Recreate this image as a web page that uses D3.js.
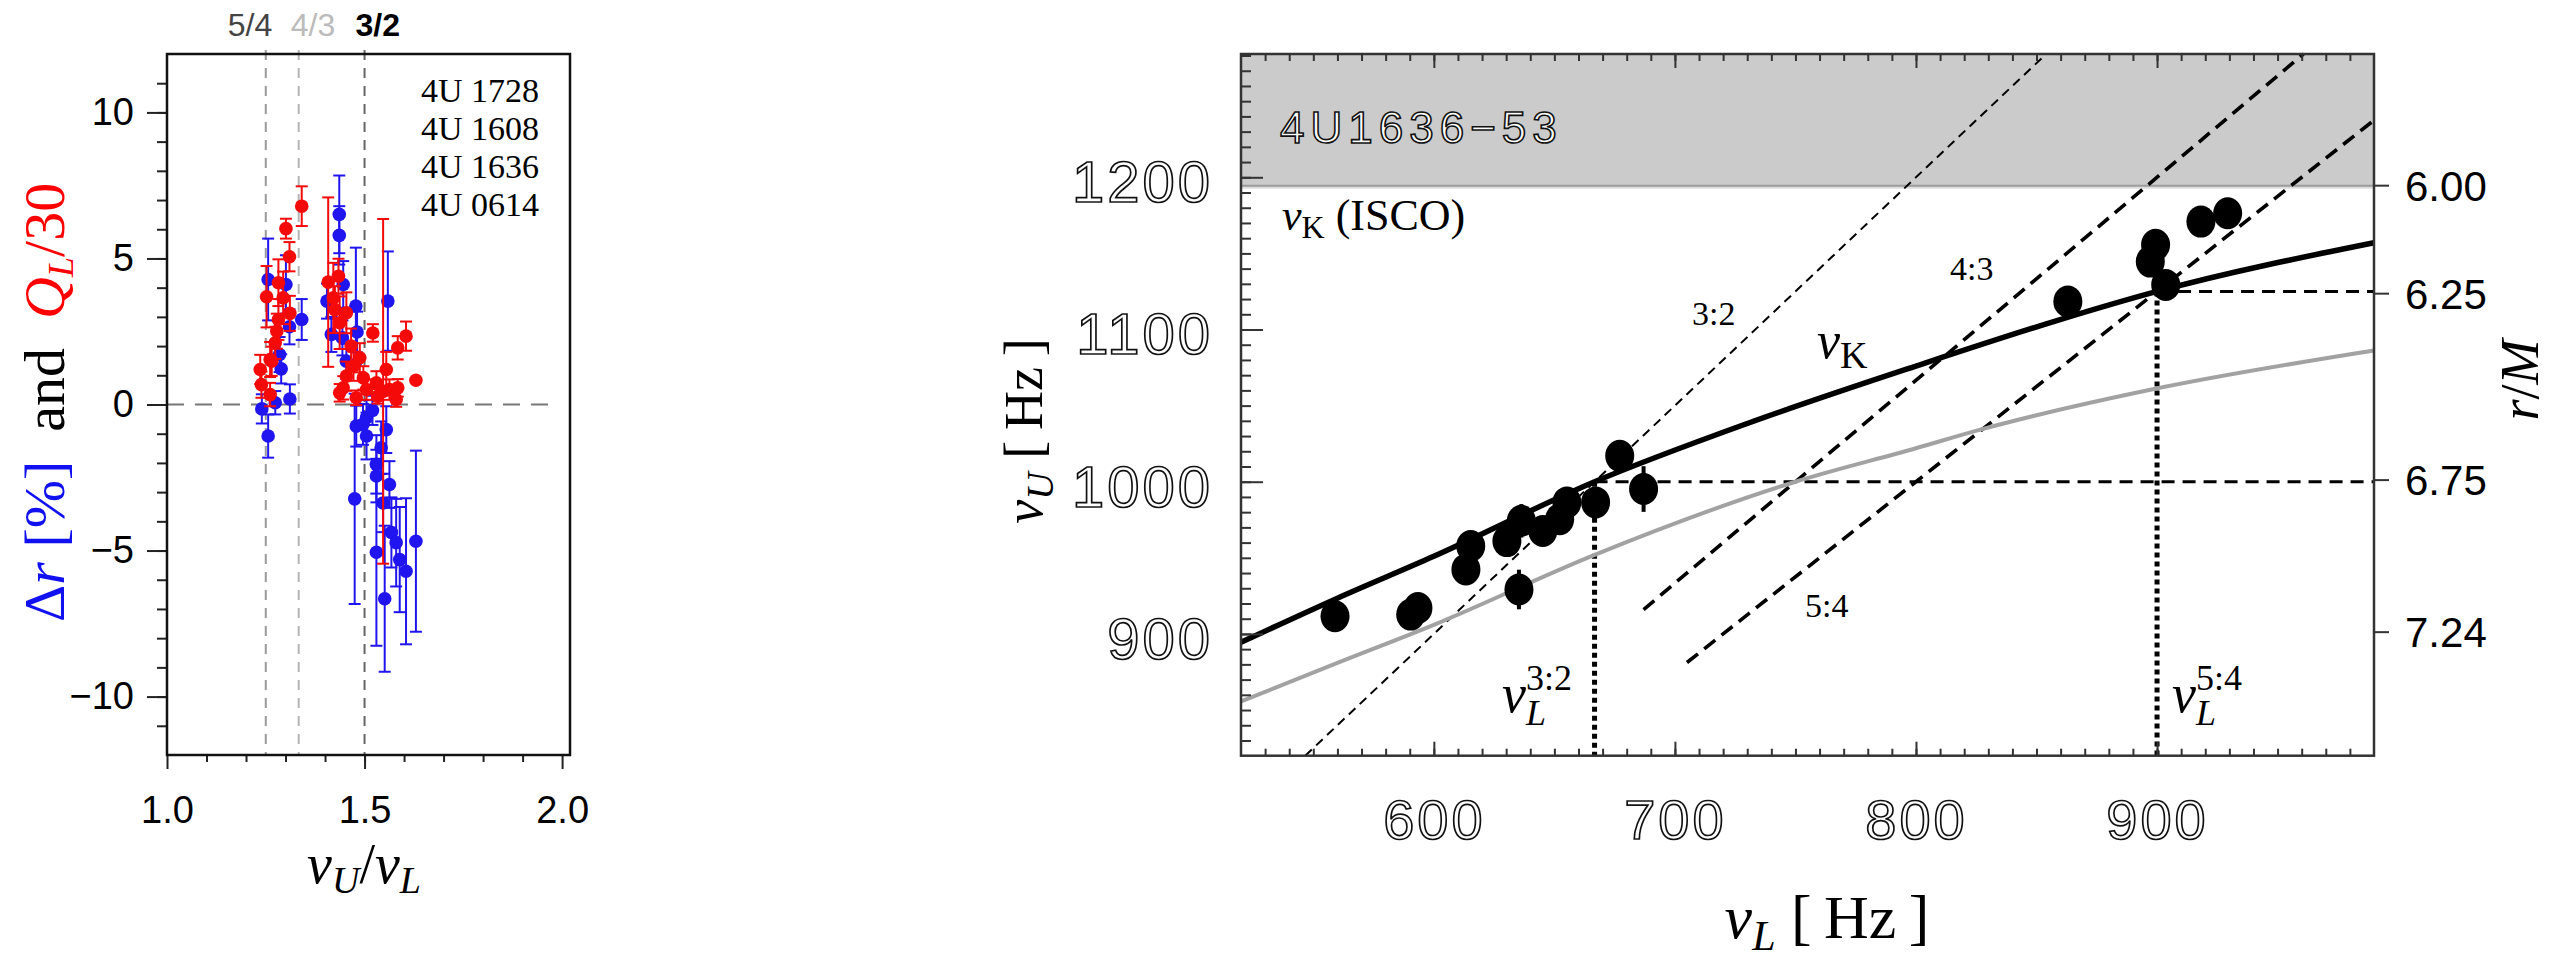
<!DOCTYPE html>
<html>
<head>
<meta charset="utf-8">
<script src="https://cdn.jsdelivr.net/npm/d3@7"></script>
<style>
body { margin: 0; background: #fff; }
text { font-family: "Liberation Sans", Arial, sans-serif; }
.serif { font-family: "Liberation Serif", "Times New Roman", serif; }
.hollow text { fill: #fff; stroke: #111; stroke-width: 1.7px; letter-spacing: 3px; }
</style>
</head>
<body>
<svg id="chart" width="2553" height="964"></svg>
<script>
// ---------- left panel: [nuU/nuL, value, error] ----------
var blueDr = [
  [1.436, 6.51, 1.33], [1.436, 5.79, 1.00], [1.256, 4.28, 1.40], [1.301, 4.11, 1.00], [1.446, 4.11, 0.80],
  [1.405, 3.54, 0.60], [1.478, 3.37, 2.00], [1.559, 3.54, 1.70], [1.341, 2.91, 0.70], [1.310, 2.66, 0.60],
  [1.416, 2.40, 0.60], [1.444, 2.28, 0.60], [1.481, 2.48, 0.70], [1.289, 1.22, 0.50], [1.285, 1.71, 0.60],
  [1.454, 1.48, 0.60], [1.311, 0.19, 0.50], [1.274, 0.06, 0.40], [1.240, -0.15, 0.50], [1.256, -1.08, 0.74],
  [1.496, -0.68, 0.70], [1.505, -1.08, 0.80], [1.542, -1.48, 0.90], [1.530, -2.05, 1.00], [1.530, -2.45, 0.90],
  [1.563, -2.74, 0.80], [1.475, -3.23, 3.60], [1.547, -3.37, 1.00], [1.568, -4.38, 1.20], [1.580, -4.73, 1.50],
  [1.630, -4.68, 3.10], [1.530, -5.06, 3.20], [1.605, -5.71, 2.50], [1.589, -5.31, 1.80], [1.551, -6.65, 2.50],
  [1.505, -0.45, 0.60], [1.479, -0.74, 0.70], [1.555, -0.86, 0.80], [1.520, -0.20, 0.50]
];
var redQ = [
  [1.341, 6.79, 0.68], [1.301, 6.02, 0.34], [1.310, 5.06, 0.50], [1.282, 4.17, 0.80], [1.252, 3.69, 1.05],
  [1.294, 3.65, 0.90], [1.311, 3.12, 0.60], [1.282, 2.91, 0.70], [1.278, 2.51, 0.60], [1.274, 2.11, 0.55],
  [1.261, 1.54, 0.60], [1.236, 1.20, 0.50], [1.239, 0.68, 0.45], [1.261, 0.34, 0.40], [1.265, 1.48, 0.50],
  [1.408, 4.19, 2.90], [1.421, 3.65, 1.20], [1.434, 4.39, 0.60], [1.425, 3.25, 0.80], [1.437, 2.80, 0.90],
  [1.454, 3.14, 0.70], [1.521, 2.45, 0.30], [1.605, 2.34, 0.50], [1.584, 1.94, 0.40], [1.630, 0.83, 0],
  [1.472, 1.31, 0.50], [1.497, 0.91, 0.40], [1.454, 0.97, 0.50], [1.446, 0.57, 0.40], [1.505, 0.51, 0.35],
  [1.547, 0.45, 5.90], [1.555, 1.20, 0.60], [1.530, 0.74, 0.40], [1.563, 0.51, 0.35], [1.584, 0.57, 0.30],
  [1.437, 0.40, 0.30], [1.479, 0.23, 0.25], [1.580, 0.17, 0.25], [1.533, 0.28, 0.25], [1.466, 2.00, 0.60],
  [1.488, 1.60, 0.50]
];
var sources = ['4U 1728', '4U 1608', '4U 1636', '4U 0614'];
var ratioValues = [5 / 4, 4 / 3, 3 / 2];
var ratioLabels = ['5/4', '4/3', '3/2'];

// ---------- right panel: 4U 1636-53 ----------
var nuL = [559, 590.4, 593.4, 613.3, 615.3, 630.3, 635.3, 636.3, 645.2, 652.2, 655.2, 667.1, 677.1, 687,
  863, 897.2, 899.4, 903.6, 918.2, 929.3];
var nuU = [911.6, 912.7, 917, 942.4, 957.8, 961, 929.2, 974.3, 967.7, 975.4, 986.4, 986.4, 1017, 995.2,
  1118.4, 1144.6, 1155.6, 1129.3, 1170.9, 1176.4];
var nuUerr = [0, 0, 0, 0, 0, 0, 13, 11, 0, 0, 0, 0, 5, 15, 0, 0, 0, 0, 0, 0];
var kepL = [520, 560, 600, 666.7, 730.6, 800, 858.8, 900, 990];        // nu_K curve
var kepU = [894.5, 923.5, 951, 1000, 1038.6, 1076, 1106, 1125, 1157];
var grayL = [520, 560, 600, 666.7, 750, 800, 826.7, 897.2, 990];
var grayU = [855.6, 881, 906, 952, 1000, 1022, 1034.2, 1060.4, 1086.2];
var resonances = [[3, 2], [4, 3], [5, 4]];
var resonanceStart = [520, 687, 705];      // nu_L where each dashed line begins
var nuISCO = 1194.5;
var rTicks = [6.00, 6.25, 6.75, 7.24];

var svg = d3.select('#chart');
svg.append('rect').attr('width', 2553).attr('height', 964).attr('fill', '#fff');

// rich text with italic / sub / sup pieces
function rich(g, x, y, size, parts, anchor) {
    var t = g.append('text').attr('class', 'serif').attr('x', x).attr('y', y)
        .attr('font-size', size).attr('text-anchor', anchor || 'start');
    var cur = 0;
    parts.forEach(function (p) {
        var sh = p.sh || 0;
        t.append('tspan').text(p.t)
            .attr('dy', sh - cur)
            .attr('dx', p.dx || 0)
            .attr('font-size', p.s || size)
            .attr('font-style', p.i ? 'italic' : 'normal')
            .attr('fill', p.f || '#000');
        cur = sh;
    });
    return t;
}

/* ================= LEFT PANEL ================= */
var xL = d3.scaleLinear().domain([1, 2.02]).range([167, 570]);
var yL = d3.scaleLinear().domain([-12, 12]).range([755, 54]);
var left = svg.append('g');

left.append('line')
    .attr('x1', 167).attr('x2', 557).attr('y1', yL(0)).attr('y2', yL(0))
    .attr('stroke', '#777').attr('stroke-width', 2).attr('stroke-dasharray', '17,11');

var ratioColor = ['#9a9a9a', '#b4b4b4', '#666'];
left.selectAll('line.ratio').data(ratioValues).enter().append('line')
    .attr('class', 'ratio')
    .attr('x1', function (d) { return xL(d); }).attr('x2', function (d) { return xL(d); })
    .attr('y1', 50).attr('y2', 755)
    .attr('stroke', function (d, i) { return ratioColor[i]; })
    .attr('stroke-width', 2).attr('stroke-dasharray', '10,8');

var ratioDx = [-38, -8, -9], ratioFill = ['#444', '#bbb', '#000'];
left.selectAll('text.ratio').data(ratioLabels).enter().append('text')
    .attr('class', 'ratio')
    .attr('x', function (d, i) { return xL(ratioValues[i]) + ratioDx[i]; })
    .attr('y', 36).attr('font-size', 32)
    .attr('font-weight', function (d, i) { return i === 2 ? 'bold' : 'normal'; })
    .attr('fill', function (d, i) { return ratioFill[i]; })
    .text(function (d) { return d; });

function drawSeries(data, color) {
    var g = left.append('g');
    var eb = g.selectAll('g.eb').data(data.filter(function (d) { return d[2] > 0; })).enter().append('g')
        .attr('stroke', color).attr('stroke-width', 2);
    eb.append('line')
        .attr('x1', function (d) { return xL(d[0]); }).attr('x2', function (d) { return xL(d[0]); })
        .attr('y1', function (d) { return yL(d[1] - d[2]); }).attr('y2', function (d) { return yL(d[1] + d[2]); });
    [-1, 1].forEach(function (s) {
        eb.append('line')
            .attr('x1', function (d) { return xL(d[0]) - 6; }).attr('x2', function (d) { return xL(d[0]) + 6; })
            .attr('y1', function (d) { return yL(d[1] + s * d[2]); }).attr('y2', function (d) { return yL(d[1] + s * d[2]); });
    });
    g.selectAll('circle').data(data).enter().append('circle')
        .attr('cx', function (d) { return xL(d[0]); })
        .attr('cy', function (d) { return yL(d[1]); })
        .attr('r', 6.8).attr('fill', color);
}
drawSeries(blueDr, '#2015ee');
drawSeries(redQ, '#f50a0a');

// axes
var axL1 = left.append('g').attr('transform', 'translate(0,755)')
    .call(d3.axisBottom(xL).tickValues(d3.range(1.1, 1.95, 0.1)).tickSize(7).tickSizeOuter(0).tickFormat(''));
var axL2 = left.append('g').attr('transform', 'translate(0,755)')
    .call(d3.axisBottom(xL).tickValues([1, 1.5, 2]).tickSize(14).tickSizeOuter(0).tickPadding(27)
        .tickFormat(d3.format('.1f')));
var axL3 = left.append('g').attr('transform', 'translate(167,0)')
    .call(d3.axisLeft(yL).tickValues(d3.range(-11, 12, 1)).tickSize(10).tickSizeOuter(0).tickFormat(''));
var axL4 = left.append('g').attr('transform', 'translate(167,0)')
    .call(d3.axisLeft(yL).tickValues([-10, -5, 0, 5, 10]).tickSize(20).tickSizeOuter(0).tickPadding(13));
[axL1, axL2, axL3, axL4].forEach(function (a) {
    a.select('.domain').remove();
    a.selectAll('line').attr('stroke', '#222').attr('stroke-width', 2);
    a.selectAll('text').attr('font-size', 38).attr('fill', '#000')
        .attr('font-family', '"Liberation Sans", Arial, sans-serif');
});

left.append('rect').attr('x', 167).attr('y', 54).attr('width', 403).attr('height', 701)
    .attr('fill', 'none').attr('stroke', '#111').attr('stroke-width', 2.5);

left.selectAll('text.src').data(sources).enter().append('text')
    .attr('class', 'serif src')
    .attr('x', 421).attr('y', function (d, i) { return 101.7 + i * 38; })
    .attr('font-size', 34).text(function (d) { return d; });

rich(left, 364, 883, 56, [
    { t: 'ν', i: true }, { t: 'U', i: true, s: 38, sh: 10 },
    { t: '/', i: false, sh: 0 }, { t: 'ν', i: true }, { t: 'L', i: true, s: 38, sh: 10 }
], 'middle');

var yt = left.append('g').attr('transform', 'rotate(-90,64,622)');
rich(yt, 64, 622, 58, [
    { t: 'Δ', f: '#1010f0' }, { t: 'r', i: true, f: '#1010f0' }, { t: ' [%]', f: '#1010f0' },
    { t: '  and  ', f: '#000' },
    { t: 'Q', i: true, f: '#f00' }, { t: 'L', i: true, s: 36, sh: 9, f: '#f00' },
    { t: '/30', f: '#f00', sh: 0 }
]).attr('xml:space', 'preserve');

/* ================= RIGHT PANEL ================= */
var xR = d3.scaleLinear().domain([520, 990]).range([1241, 2374]);
var yR = d3.scaleLinear().domain([820, 1281]).range([755.7, 54]);
var right = svg.append('g');

right.append('rect').attr('x', 1241).attr('y', 54).attr('width', 1133).attr('height', yR(nuISCO) - 54)
    .attr('fill', '#cbcbcb');
right.append('rect').attr('x', 1241).attr('y', yR(nuISCO)).attr('width', 1133).attr('height', 3)
    .attr('fill', '#dcdcdc');
right.append('line').attr('x1', 1241).attr('x2', 2374).attr('y1', yR(nuISCO)).attr('y2', yR(nuISCO))
    .attr('stroke', '#9c9c9c').attr('stroke-width', 2);

// resonance lines nu_U = (n/m) nu_L
resonances.forEach(function (r, i) {
    var k = r[0] / r[1];
    var lo = Math.max(resonanceStart[i], yR.domain()[0] / k);
    var hi = Math.min(xR.domain()[1], yR.domain()[1] / k);
    right.append('line')
        .attr('x1', xR(lo)).attr('y1', yR(lo * k)).attr('x2', xR(hi)).attr('y2', yR(hi * k))
        .attr('stroke', '#000')
        .attr('stroke-width', i === 0 ? 2 : 3.6)
        .attr('stroke-dasharray', i === 0 ? '9,6' : '14,8');
});

// where nu_K meets 3:2 and 5:4
var cross = [[1000 / 1.5, 1000], [1125 / 1.25, 1125]];
cross.forEach(function (c) {
    right.append('line').attr('x1', xR(c[0])).attr('x2', 2374).attr('y1', yR(c[1])).attr('y2', yR(c[1]))
        .attr('stroke', '#000').attr('stroke-width', 3).attr('stroke-dasharray', '13,8');
    right.append('line').attr('x1', xR(c[0])).attr('x2', xR(c[0])).attr('y1', yR(c[1])).attr('y2', 755.7)
        .attr('stroke', '#000').attr('stroke-width', 5).attr('stroke-dasharray', '5,4');
});

var line = d3.line().curve(d3.curveMonotoneX)
    .x(function (d) { return xR(d[0]); }).y(function (d) { return yR(d[1]); });
right.append('path').datum(d3.zip(grayL, grayU)).attr('d', line)
    .attr('fill', 'none').attr('stroke', '#a2a2a2').attr('stroke-width', 4);
right.append('path').datum(d3.zip(kepL, kepU)).attr('d', line)
    .attr('fill', 'none').attr('stroke', '#000').attr('stroke-width', 5.5);

var pts = d3.range(nuL.length).map(function (i) { return [nuL[i], nuU[i], nuUerr[i]]; });
right.selectAll('line.err').data(pts.filter(function (d) { return d[2] > 0; })).enter().append('line')
    .attr('class', 'err')
    .attr('x1', function (d) { return xR(d[0]); }).attr('x2', function (d) { return xR(d[0]); })
    .attr('y1', function (d) { return yR(d[1] - d[2]); }).attr('y2', function (d) { return yR(d[1] + d[2]); })
    .attr('stroke', '#000').attr('stroke-width', 4);
right.selectAll('ellipse').data(pts).enter().append('ellipse')
    .attr('cx', function (d) { return xR(d[0]); })
    .attr('cy', function (d) { return yR(d[1]); })
    .attr('rx', 14.5).attr('ry', 16).attr('fill', '#000');

// axes (ticks inside)
function styleAxis(a) {
    a.select('.domain').remove();
    a.selectAll('line').attr('stroke', '#333').attr('stroke-width', 2);
}
var minorX = d3.range(530, 990, 10), minorY = d3.range(830, 1281, 10);
styleAxis(right.append('g').attr('transform', 'translate(0,755.7)')
    .call(d3.axisBottom(xR).tickValues(minorX).tickSize(-7).tickFormat('')));
styleAxis(right.append('g').attr('transform', 'translate(0,54)')
    .call(d3.axisTop(xR).tickValues(minorX).tickSize(-7).tickFormat('')));
styleAxis(right.append('g').attr('transform', 'translate(1241,0)')
    .call(d3.axisLeft(yR).tickValues(minorY).tickSize(-10).tickFormat('')));
var axB = right.append('g').attr('class', 'hollow').attr('transform', 'translate(0,755.7)')
    .call(d3.axisBottom(xR).tickValues([600, 700, 800, 900]).tickSize(-14).tickPadding(44)
        .tickFormat(d3.format('d')));
var axT = right.append('g').attr('transform', 'translate(0,54)')
    .call(d3.axisTop(xR).tickValues([600, 700, 800, 900]).tickSize(-14).tickFormat(''));
var axLft = right.append('g').attr('class', 'hollow').attr('transform', 'translate(1241,0)')
    .call(d3.axisLeft(yR).tickValues([900, 1000, 1100, 1200]).tickSize(-22).tickPadding(28)
        .tickFormat(d3.format('d')));
[axB, axT, axLft].forEach(styleAxis);
axB.selectAll('text').attr('font-size', 56);
axLft.selectAll('text').attr('font-size', 58).attr('dy', '0.42em');

right.append('rect').attr('x', 1241).attr('y', 54).attr('width', 1133).attr('height', 701.7)
    .attr('fill', 'none').attr('stroke', '#333').attr('stroke-width', 2.5);

// r/M axis on the right
function rToNu(r) { return nuISCO * Math.pow(6 / r, 1.5); }
right.selectAll('line.rt').data(rTicks).enter().append('line').attr('class', 'rt')
    .attr('x1', 2374).attr('x2', 2389)
    .attr('y1', function (d) { return yR(rToNu(d)); }).attr('y2', function (d) { return yR(rToNu(d)); })
    .attr('stroke', '#333').attr('stroke-width', 2);
right.selectAll('text.rt').data(rTicks).enter().append('text').attr('class', 'rt')
    .attr('x', 2405).attr('y', function (d) { return yR(rToNu(d)) + 15; })
    .attr('font-size', 42).text(function (d) { return d.toFixed(2); });

// labels
right.append('text').attr('x', 1280).attr('y', 143).attr('font-size', 44)
    .attr('fill', '#fff').attr('stroke', '#111').attr('stroke-width', 1.6).attr('letter-spacing', 6)
    .text('4U1636\u221253');
rich(right, 1282, 230, 44, [{ t: 'ν', i: true }, { t: 'K', s: 32, sh: 8 }, { t: ' (ISCO)', sh: 0 }]);
rich(right, 1692, 325, 34, [{ t: '3:2' }]);
rich(right, 1950, 280, 34, [{ t: '4:3' }]);
rich(right, 1805, 617, 34, [{ t: '5:4' }]);
rich(right, 1817, 358, 52, [{ t: 'ν', i: true }, { t: 'K', s: 38, sh: 10 }]);
rich(right, 1502, 712, 54, [{ t: 'ν', i: true }, { t: 'L', i: true, s: 36, sh: 13 },
    { t: '3:2', s: 36, sh: -22, dx: -20 }]);
rich(right, 2172, 712, 54, [{ t: 'ν', i: true }, { t: 'L', i: true, s: 36, sh: 13 },
    { t: '5:4', s: 36, sh: -22, dx: -20 }]);

rich(right, 1827, 938, 62, [{ t: 'ν', i: true }, { t: 'L', i: true, s: 42, sh: 12 },
    { t: ' [\u2009Hz\u2009]', sh: 0 }], 'middle');
var yt2 = right.append('g').attr('transform', 'rotate(-90,1042,431)');
rich(yt2, 1042, 431, 54, [{ t: 'ν', i: true }, { t: 'U', i: true, s: 38, sh: 11 },
    { t: ' [\u2009Hz\u2009]', sh: 0 }], 'middle');
var yt3 = right.append('g').attr('transform', 'rotate(-90,2538,380)');
rich(yt3, 2538, 380, 54, [{ t: 'r', i: true }, { t: '/' }, { t: 'M', i: true }], 'middle');
</script>
</body>
</html>
